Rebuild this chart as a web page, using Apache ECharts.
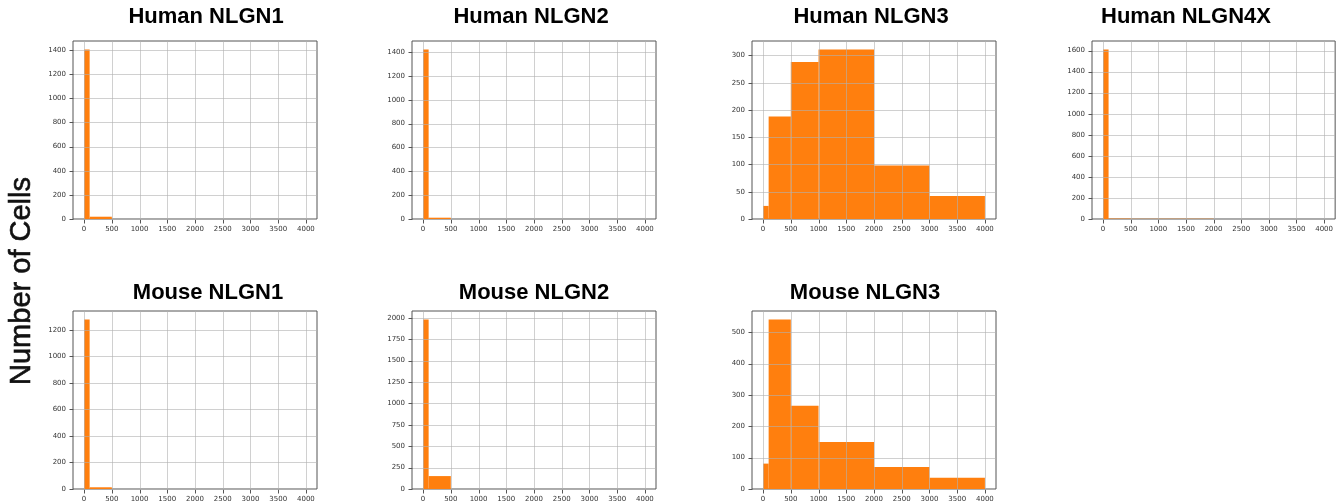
<!DOCTYPE html>
<html>
<head>
<meta charset="utf-8">
<script src="https://cdn.jsdelivr.net/npm/echarts@6/dist/echarts.min.js"></script>
<style>
  html, body { margin: 0; padding: 0; background: #ffffff; }
  #chart { width: 1336px; height: 504px; }
</style>
</head>
<body>
<div id="chart"></div>
<script>
// Histogram bin edges (expression value) shared by every panel
const binEdges = [0, 100, 500, 1000, 2000, 3000, 4000];
const xTicks = [0, 500, 1000, 1500, 2000, 2500, 3000, 3500, 4000];

// Cell counts per bin
const humanNLGN1 = [1405, 19, 0, 0, 0, 0];
const humanNLGN2 = [1422, 11, 0, 0, 0, 0];
const humanNLGN3 = [24, 188, 288, 311, 98, 42];
const humanNLGN4X = [1610, 4, 2, 3, 0, 0];
const mouseNLGN1 = [1278, 13, 0, 0, 0, 0];
const mouseNLGN2 = [1981, 151, 0, 0, 0, 0];
const mouseNLGN3 = [81, 541, 266, 150, 70, 36];

// Y tick labels per panel
const yTicksHumanNLGN1 = [0, 200, 400, 600, 800, 1000, 1200, 1400];
const yTicksHumanNLGN2 = [0, 200, 400, 600, 800, 1000, 1200, 1400];
const yTicksHumanNLGN3 = [0, 50, 100, 150, 200, 250, 300];
const yTicksHumanNLGN4X = [0, 200, 400, 600, 800, 1000, 1200, 1400, 1600];
const yTicksMouseNLGN1 = [0, 200, 400, 600, 800, 1000, 1200];
const yTicksMouseNLGN2 = [0, 250, 500, 750, 1000, 1250, 1500, 1750, 2000];
const yTicksMouseNLGN3 = [0, 100, 200, 300, 400, 500];

const titles = ['Human NLGN1', 'Human NLGN2', 'Human NLGN3', 'Human NLGN4X',
                'Mouse NLGN1', 'Mouse NLGN2', 'Mouse NLGN3'];
const yAxisTitle = 'Number of Cells';

const panels = [
  { title: titles[0], counts: humanNLGN1, yTicks: yTicksHumanNLGN1 },
  { title: titles[1], counts: humanNLGN2, yTicks: yTicksHumanNLGN2 },
  { title: titles[2], counts: humanNLGN3, yTicks: yTicksHumanNLGN3 },
  { title: titles[3], counts: humanNLGN4X, yTicks: yTicksHumanNLGN4X },
  { title: titles[4], counts: mouseNLGN1, yTicks: yTicksMouseNLGN1 },
  { title: titles[5], counts: mouseNLGN2, yTicks: yTicksMouseNLGN2 },
  { title: titles[6], counts: mouseNLGN3, yTicks: yTicksMouseNLGN3 }
];

// Page layout: plot boxes and title anchors
const layout = [
  { left: 73,   top: 41,  tx: 206,  ty: 17 },
  { left: 412,  top: 41,  tx: 531,  ty: 17 },
  { left: 752,  top: 41,  tx: 871,  ty: 17 },
  { left: 1092, top: 41,  tx: 1186, ty: 17 },
  { left: 73,   top: 311, tx: 208,  ty: 293 },
  { left: 412,  top: 311, tx: 534,  ty: 293 },
  { left: 752,  top: 311, tx: 865,  ty: 293 }
];
const plotW = 244, plotH = 178;
const TICK_LEN = 4;

const BAR = '#ff7f0e';
const FRAME = '#555555';
const LABEL = '#333333';
const GRIDLINE = 'rgba(176,176,176,0.6)';
const labelFont = 'DejaVu Sans';
const plain = v => String(Math.round(v));

const grids = [], xAxes = [], yAxes = [], series = [], graphics = [];

panels.forEach((p, i) => {
  const L = layout[i];
  grids.push({
    left: L.left, top: L.top, width: plotW, height: plotH,
    show: true, borderColor: FRAME, borderWidth: 1, backgroundColor: 'transparent'
  });
  xAxes.push({
    gridIndex: i, type: 'value', min: -200, max: 4200,
    axisLine: { show: false },
    splitLine: { show: false },
    axisTick: { show: false },
    axisLabel: { show: true, customValues: xTicks, margin: 7, formatter: plain,
                 fontSize: 7, color: LABEL, fontFamily: labelFont }
  });
  const ymax = Math.max(...p.counts) * 1.05;
  yAxes.push({
    gridIndex: i, type: 'value', min: 0, max: ymax,
    axisLine: { show: false },
    splitLine: { show: false },
    axisTick: { show: false },
    axisLabel: { show: true, customValues: p.yTicks, margin: 7, formatter: plain,
                 fontSize: 7, color: LABEL, fontFamily: labelFont }
  });

  // histogram bars: one rectangle per bin [left edge, right edge, count]
  series.push({
    type: 'custom', xAxisIndex: i, yAxisIndex: i, z: 2, silent: true,
    data: p.counts.map((c, k) => [binEdges[k], binEdges[k + 1], c]),
    encode: { x: [0, 1], y: 2 },
    renderItem: (params, api) => {
      const c = api.value(2);
      if (!c) return { type: 'group', children: [] };
      const a = api.coord([api.value(0), c]);
      const b = api.coord([api.value(1), 0]);
      return {
        type: 'rect',
        shape: { x: a[0], y: a[1], width: b[0] - a[0], height: b[1] - a[1] },
        style: { fill: BAR }
      };
    }
  });

  // grid lines over the bars, plus outward tick marks, at the tick positions
  series.push({
    type: 'custom', xAxisIndex: i, yAxisIndex: i, z: 5, silent: true, clip: false,
    data: [[0, 0]],
    renderItem: (params, api) => {
      const cs = params.coordSys;
      const bottom = Math.round(cs.y + cs.height);
      const left = Math.round(cs.x);
      const children = [];
      xTicks.forEach(v => {
        const x = Math.round(api.coord([v, 0])[0]) + 0.5;
        children.push({ type: 'line',
          shape: { x1: x, y1: cs.y, x2: x, y2: cs.y + cs.height },
          style: { stroke: GRIDLINE, lineWidth: 1 } });
        children.push({ type: 'line',
          shape: { x1: x, y1: bottom + 0.5, x2: x, y2: bottom + 0.5 + TICK_LEN },
          style: { stroke: FRAME, lineWidth: 1 } });
      });
      p.yTicks.forEach(v => {
        const y = Math.round(api.coord([0, v])[1]) + 0.5;
        children.push({ type: 'line',
          shape: { x1: cs.x, y1: y, x2: cs.x + cs.width, y2: y },
          style: { stroke: GRIDLINE, lineWidth: 1 } });
        children.push({ type: 'line',
          shape: { x1: left + 0.5 - TICK_LEN, y1: y, x2: left + 0.5, y2: y },
          style: { stroke: FRAME, lineWidth: 1 } });
      });
      return { type: 'group', children };
    }
  });

  graphics.push({
    type: 'text', x: L.tx, y: L.ty, silent: true,
    style: { text: p.title, font: 'bold 22px "Liberation Sans", Arial, sans-serif',
             fill: '#000', textAlign: 'center', textVerticalAlign: 'middle' }
  });
});

graphics.push({
  type: 'text', x: 22, y: 281, rotation: Math.PI / 2, silent: true,
  style: { text: yAxisTitle, font: '29px "Liberation Sans", Arial, sans-serif',
           fill: '#111', stroke: '#111', lineWidth: 0.6,
           textAlign: 'center', textVerticalAlign: 'middle' }
});

const chart = echarts.init(document.getElementById('chart'), null, { renderer: 'canvas' });
chart.setOption({
  animation: false,
  backgroundColor: '#ffffff',
  grid: grids,
  xAxis: xAxes,
  yAxis: yAxes,
  series: series,
  graphic: graphics
});
</script>
</body>
</html>
